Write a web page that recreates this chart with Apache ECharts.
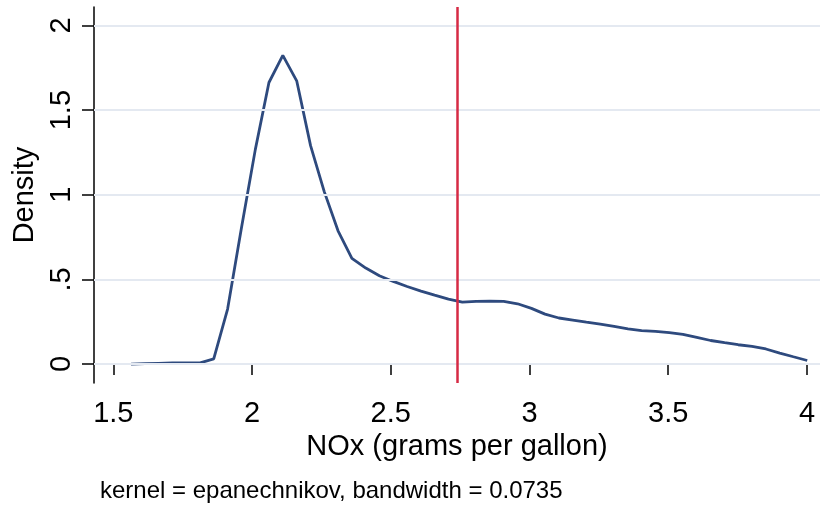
<!DOCTYPE html>
<html>
<head>
<meta charset="utf-8">
<script src="https://cdn.jsdelivr.net/npm/echarts@6/dist/echarts.min.js"></script>
<style>
  html, body { margin: 0; padding: 0; background: #fff; }
  #chart { width: 820px; height: 508px; }
</style>
</head>
<body>
<div id="chart"></div>
<script>
// kernel density estimate, 50 evaluation points
const noxGrid = [
  1.564, 1.614, 1.663, 1.713, 1.763, 1.813, 1.862, 1.912, 1.962, 2.012,
  2.061, 2.111, 2.161, 2.211, 2.260, 2.310, 2.360, 2.410, 2.459, 2.509,
  2.559, 2.609, 2.658, 2.708, 2.758, 2.808, 2.857, 2.907, 2.957, 3.007,
  3.056, 3.106, 3.156, 3.205, 3.255, 3.305, 3.355, 3.404, 3.454, 3.504,
  3.553, 3.603, 3.653, 3.703, 3.752, 3.802, 3.852, 3.902, 3.951, 4.001
];
const density = [
  0.000, 0.002, 0.004, 0.006, 0.007, 0.007, 0.030, 0.325, 0.805, 1.268,
  1.663, 1.823, 1.673, 1.290, 1.020, 0.787, 0.624, 0.567, 0.522, 0.488,
  0.458, 0.431, 0.407, 0.384, 0.366, 0.370, 0.372, 0.370, 0.356, 0.329,
  0.295, 0.272, 0.260, 0.248, 0.236, 0.222, 0.208, 0.197, 0.193, 0.185,
  0.175, 0.157, 0.139, 0.126, 0.114, 0.104, 0.089, 0.065, 0.043, 0.021
];
const xTicks = [1.5, 2, 2.5, 3, 3.5, 4];
const yTicks = [0, 0.5, 1, 1.5, 2];
const meanLine = 2.744;
const noteText = 'kernel = epanechnikov, bandwidth = 0.0735';

const fontFam = 'Liberation Sans, Arial, sans-serif';
const chart = echarts.init(document.getElementById('chart'));

const fmtY = v => (v === 0 ? '0' : String(v).replace(/^0\./, '.'));

chart.setOption({
  backgroundColor: '#fff',
  animation: false,
  grid: { left: 94, right: 0, top: 7, bottom: 125, containLabel: false, outerBoundsMode: 'none' },
  xAxis: {
    type: 'value',
    min: 1.4305,
    max: 4.047,
    name: 'NOx (grams per gallon)',
    nameLocation: 'middle',
    nameGap: 46,
    nameTextStyle: { fontFamily: fontFam, fontSize: 29, color: '#000' },
    axisLine: { show: true, lineStyle: { color: '#000', width: 1.5 } },
    axisTick: { show: true, length: 11, lineStyle: { color: '#000', width: 1.5 }, customValues: xTicks },
    axisLabel: { fontFamily: fontFam, fontSize: 29, color: '#000', margin: 16, customValues: xTicks },
    splitLine: { show: false }
  },
  yAxis: {
    type: 'value',
    min: -0.112,
    max: 2.109,
    name: 'Density',
    nameLocation: 'middle',
    nameGap: 52,
    nameTextStyle: { fontFamily: fontFam, fontSize: 29, color: '#000' },
    axisLine: { show: true, lineStyle: { color: '#000', width: 1.5 } },
    axisTick: { show: true, length: 12, lineStyle: { color: '#000', width: 1.5 }, customValues: yTicks },
    axisLabel: {
      fontFamily: fontFam, fontSize: 29, color: '#000', margin: 18, rotate: 90,
      customValues: yTicks, formatter: fmtY
    },
    splitLine: { show: false }
  },
  series: [
    {
      // horizontal grid lines
      type: 'line',
      data: [],
      z: 1,
      silent: true,
      markLine: {
        silent: true,
        symbol: 'none',
        label: { show: false },
        lineStyle: { color: '#e4e9f1', width: 2, type: 'solid' },
        data: yTicks.map(v => ({ yAxis: v }))
      }
    },
    {
      type: 'line',
      data: noxGrid.map((x, i) => [x, density[i]]),
      showSymbol: false,
      z: 3,
      lineStyle: { color: '#2e4a7e', width: 2.8 }
    },
    {
      // reference line
      type: 'line',
      data: [],
      z: 4,
      silent: true,
      markLine: {
        silent: true,
        symbol: 'none',
        label: { show: false },
        lineStyle: { color: '#d62a44', width: 2.5, type: 'solid' },
        data: [{ xAxis: meanLine }]
      }
    }
  ],
  graphic: [{
    type: 'text',
    left: 100,
    top: 479,
    style: { text: noteText, fontFamily: fontFam, fontSize: 24, fill: '#000' }
  }]
});
</script>
</body>
</html>
